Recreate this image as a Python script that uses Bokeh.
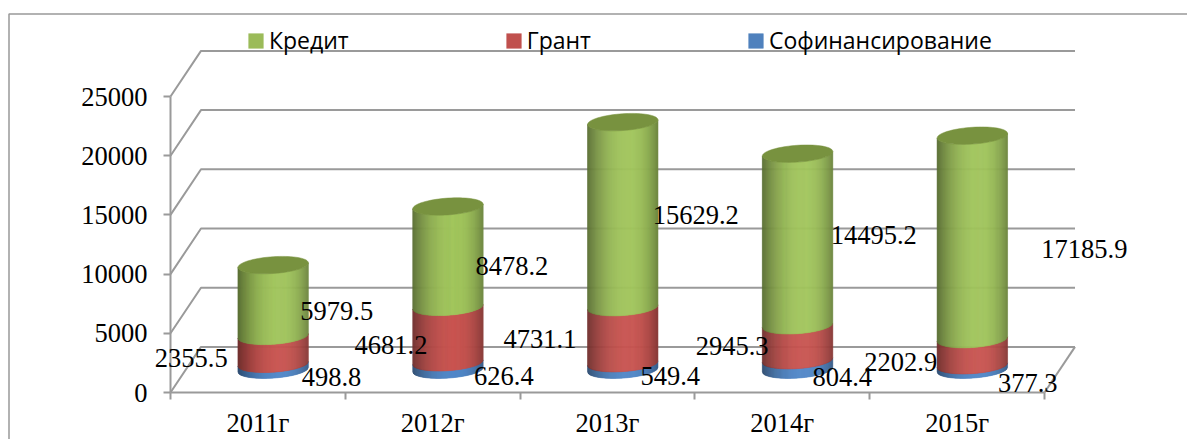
import math
from bokeh.plotting import figure
from bokeh.models import (BoxAnnotation, FixedTicker, Label, Legend, LegendItem,
                          Range1d)
from bokeh.embed import file_html
from bokeh.resources import INLINE

# ---- data ----
years = ["2011г", "2012г", "2013г", "2014г", "2015г"]
cofinancing = [498.8, 626.4, 549.4, 804.4, 377.3]
grants = [2355.5, 4681.2, 4731.1, 2945.3, 2202.9]
credits = [5979.5, 8478.2, 15629.2, 14495.2, 17185.9]
value_ticks = [0, 5000, 10000, 15000, 20000, 25000]

# ---- label displacement (pixels) relative to each segment's middle ----
green_dx = [63.6, 63.9, 73.0, 76.2, 112.0]
green_dy = [10.4, 9.1, 0.3, -4.5, 11.6]
red_dx = [-81.9, -57.0, -82.8, -65.4, -71.6]
red_dy = [7.8, 10.1, 3.5, 2.9, 9.5]
blue_dx = [58.4, 55.9, 47.5, 44.7, 55.4]
blue_dy = [10.3, 10.0, 9.6, 12.1, 16.0]

# ---- scales ----
W, H = 1187, 439
LEFT, BOTTOM = 170, 47
PX_X = 174.8
PX_Y = 296 / 25000
DX = 30.5 / PX_X          # depth of the 3D box, x units
DY = 45.6 / PX_Y          # depth of the 3D box, value units
A = 35.2 / PX_X           # cylinder half-width
B = 8.4 / PX_Y            # cap half-height
S = 2.3 / PX_Y            # cap tilt
GRID = "#9a9a9a"
SERIF = "Liberation Serif"
FS = "26.5px"
N = 70

p = figure(width=W, height=H, output_backend="svg", toolbar_location=None,
           x_range=Range1d(-LEFT / PX_X, (W - LEFT) / PX_X),
           y_range=Range1d(-BOTTOM / PX_Y, (H - BOTTOM) / PX_Y),
           min_border_left=0, min_border_right=0, min_border_top=0,
           min_border_bottom=0, outline_line_color=None,
           background_fill_color="white", border_fill_color="white")
p.grid.visible = False

# ---- axes, pinned at the value/category origin inside the full-page frame ----
xa = p.xaxis[0]
xa.fixed_location = 0
xa.bounds = (0, len(years))
xa.ticker = FixedTicker(ticks=[i + 0.5 for i in range(len(years))],
                        minor_ticks=list(range(len(years) + 1)))
xa.major_label_overrides = {i + 0.5: y for i, y in enumerate(years)}
xa.major_tick_line_color = None
xa.major_tick_in = 0
xa.major_tick_out = 0
xa.minor_tick_in = 0
xa.minor_tick_out = 7
xa.minor_tick_line_color = GRID
xa.minor_tick_line_width = 2
xa.axis_line_color = GRID
xa.axis_line_width = 2
xa.major_label_standoff = 8
xa.major_label_text_font = SERIF
xa.major_label_text_font_size = FS
xa.major_label_text_color = "black"

ya = p.yaxis[0]
ya.fixed_location = 0
ya.bounds = (0, 25000)
ya.ticker = FixedTicker(ticks=value_ticks)
ya.major_tick_in = 0
ya.major_tick_out = 7
ya.major_tick_line_color = GRID
ya.major_tick_line_width = 2
ya.minor_tick_line_color = None
ya.axis_line_color = GRID
ya.axis_line_width = 2
ya.major_label_standoff = 16
ya.major_label_text_font = SERIF
ya.major_label_text_font_size = FS
ya.major_label_text_color = "black"

# ---- back walls and floor ----
n = len(years)
gx = [[0, DX, n + DX] for _ in value_ticks]
gy = [[v, v + DY, v + DY] for v in value_ticks]
gx.append([n, n + DX])
gy.append([0, DY])
p.multi_line(gx, gy, line_color=GRID, line_width=2)

# ---- cylinders ----
def mix(c, f):
    return "#%02x%02x%02x" % tuple(int(round(v * f)) for v in c)

def shade(t, lo_l=0.55, lo_r=0.68):
    if t < 0.6:
        u, lo = t / 0.6, lo_l
    else:
        u, lo = (1 - t) / 0.4, lo_r
    return lo + (1 - lo) * (1 - (1 - u) ** 2.2)

def front(t):
    c = 2 * t - 1
    return c, S * c - B * math.sqrt(max(0, 1 - c * c))

BLUE, RED, GREEN = (80, 135, 200), (200, 84, 80), (161, 197, 92)
CAP = "#78923f"

xs, ys, cols = [], [], []
capx, capy = [], []
for i in range(n):
    cx = i + 0.5 + DX / 2
    level = DY / 2
    for vals, col in ((cofinancing, BLUE), (grants, RED), (credits, GREEN)):
        v = vals[i]
        for k in range(N):
            t0, t1 = k / N, (k + 1) / N
            c0, d0 = front(t0)
            c1, d1 = front(t1)
            xs.append([cx + A * c0, cx + A * c1, cx + A * c1, cx + A * c0])
            ys.append([level + d0, level + d1, level + v + d1, level + v + d0])
            cols.append(mix(col, shade((t0 + t1) / 2)))
        level += v
    angs = [2 * math.pi * j / 72 for j in range(72)]
    capx.append([cx + A * math.cos(a) for a in angs])
    capy.append([level + S * math.cos(a) + B * math.sin(a) for a in angs])

p.patches(xs, ys, fill_color=cols, line_color=cols, line_width=0.6)
p.patches(capx, capy, fill_color=CAP, line_color=CAP, line_width=0.5)

# ---- data labels ----
for i in range(n):
    cx = i + 0.5 + DX / 2
    base = DY / 2
    for vals, dxs, dys in ((cofinancing, blue_dx, blue_dy),
                           (grants, red_dx, red_dy),
                           (credits, green_dx, green_dy)):
        v = vals[i]
        p.add_layout(Label(x=cx, y=base + v / 2, text=f"{v:.1f}",
                           x_offset=dxs[i], y_offset=-dys[i],
                           text_font=SERIF, text_font_size=FS, text_color="black",
                           text_align="center", text_baseline="middle"))
        base += v

# ---- legend ----
r1 = p.vbar(x=[0], top=[0], width=0, fill_color="#9BBB59", line_color=None)
r2 = p.vbar(x=[0], top=[0], width=0, fill_color="#C0504D", line_color=None)
r3 = p.vbar(x=[0], top=[0], width=0, fill_color="#4F81BD", line_color=None)
legend = Legend(items=[LegendItem(label="Кредит", renderers=[r1]),
                       LegendItem(label="Грант", renderers=[r2]),
                       LegendItem(label="Софинансирование", renderers=[r3])],
                orientation="horizontal", location=(246, 383), padding=0, margin=0,
                spacing=155, glyph_width=19, glyph_height=19, label_standoff=4,
                border_line_color=None, background_fill_alpha=0,
                label_text_font="Open Sans", label_text_font_size="23px",
                label_text_color="black")
p.add_layout(legend, "center")

# ---- outer chart border ----
p.add_layout(BoxAnnotation(left=8.5, right=W + 50, top=13.5, bottom=H + 50,
                           left_units="canvas", right_units="canvas",
                           top_units="canvas", bottom_units="canvas",
                           fill_alpha=0, line_color="#999999", line_alpha=1,
                           line_width=1.5, level="overlay"))

open("out.html", "w").write(file_html(p, INLINE))
